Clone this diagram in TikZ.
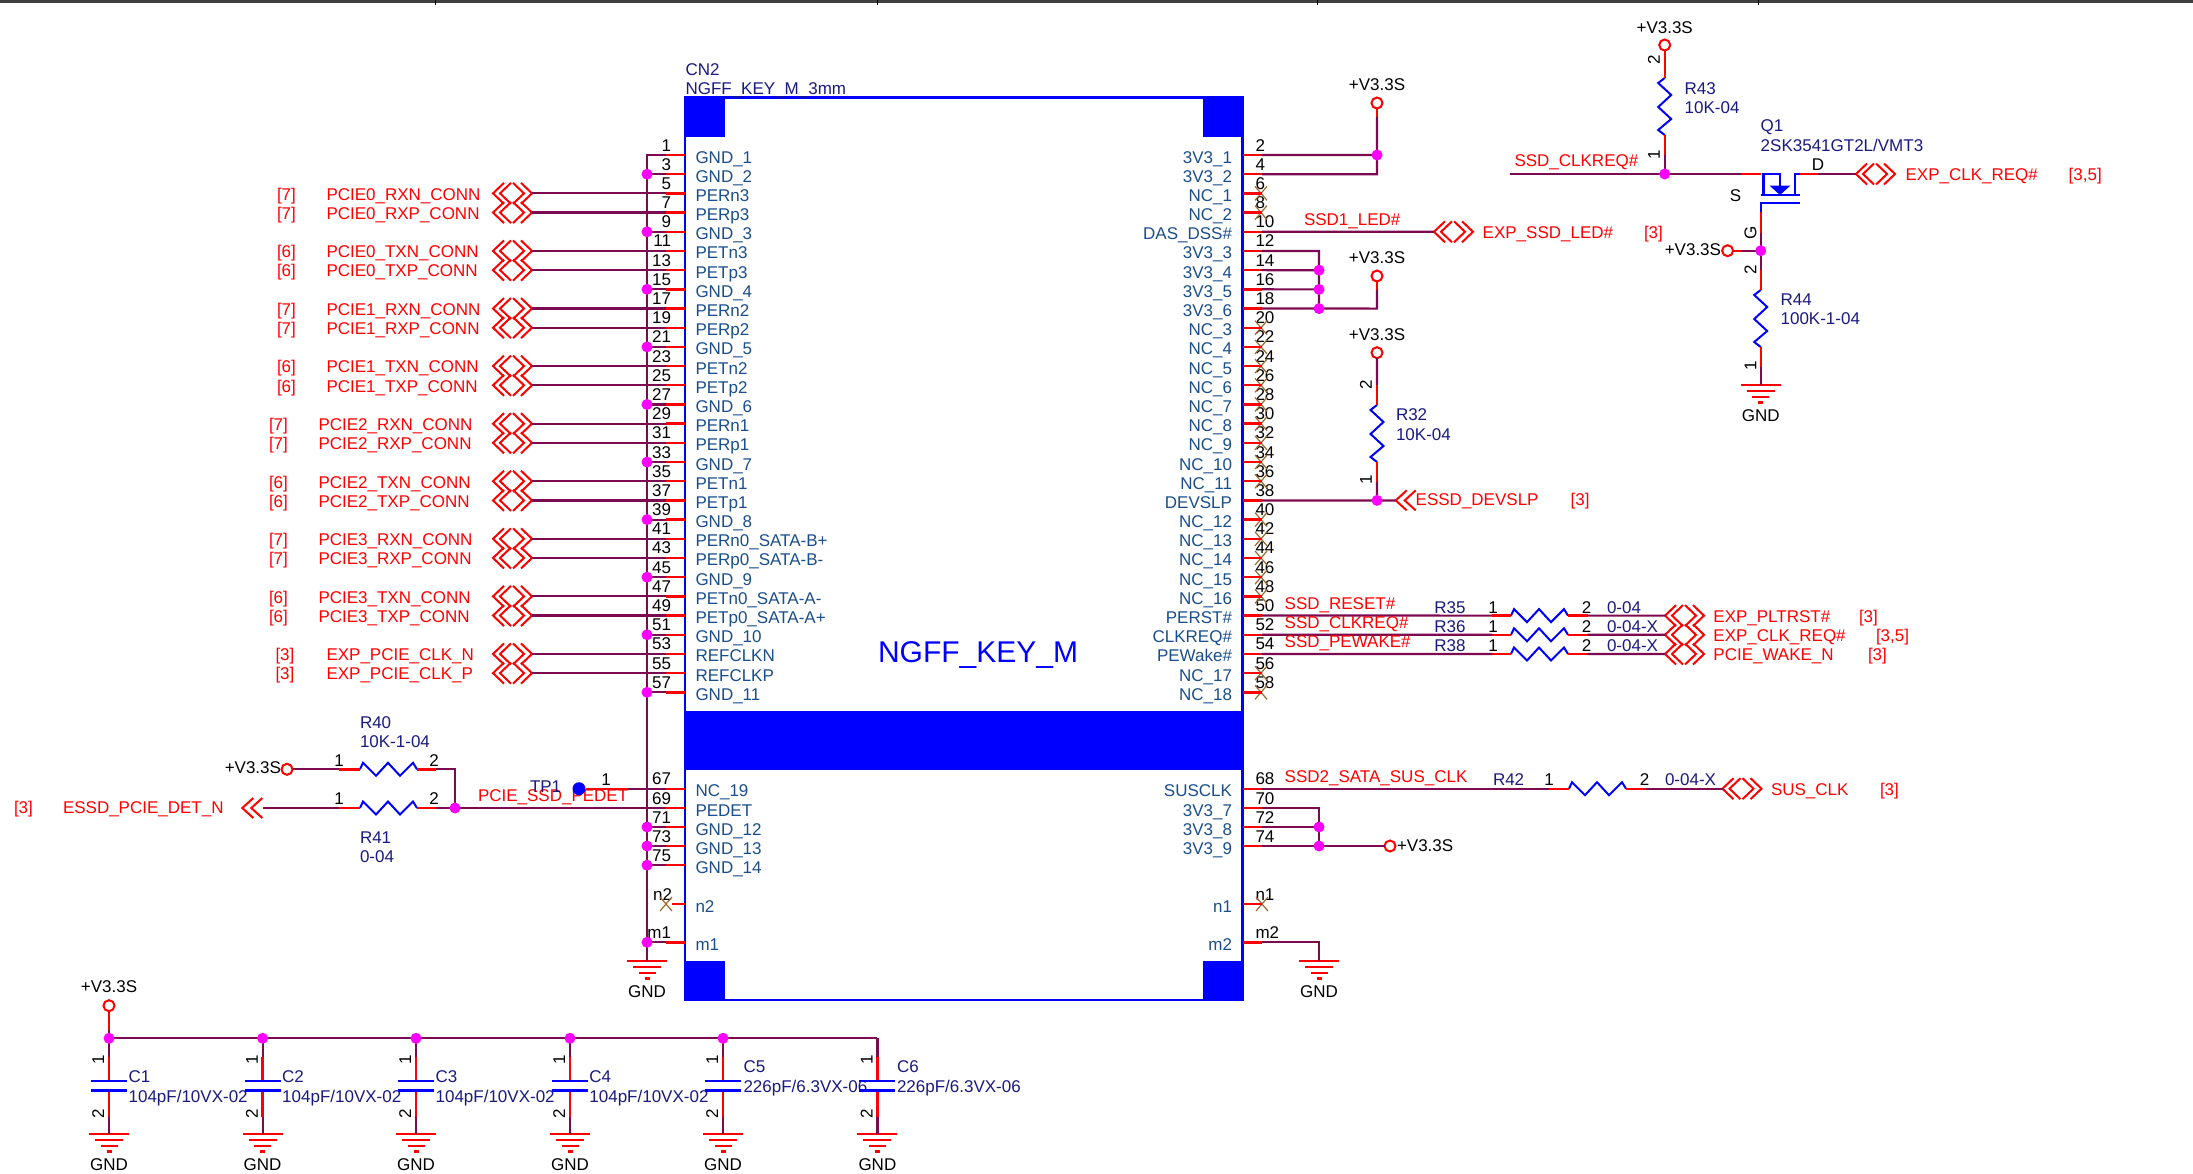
\documentclass[tikz,border=0pt]{standalone}
\usepackage{fontspec}
\setmainfont{Liberation Sans}
\definecolor{wirec}{HTML}{7D0A50}
\definecolor{pinred}{HTML}{FF0000}
\definecolor{namec}{HTML}{1A4E8C}
\definecolor{refc}{HTML}{1A1A80}
\definecolor{bodyc}{HTML}{0000FF}
\definecolor{dotc}{HTML}{FF00FF}
\definecolor{xc}{HTML}{9A6A30}
\newcommand{\tfive}{3,5}
\tikzset{
  base/.style={inner sep=0pt,outer sep=0pt,font=\fontsize{17}{17}\selectfont},
  num/.style={base,text=black,anchor=base east},
  numl/.style={base,text=black,anchor=base west},
  numc/.style={base,text=black,anchor=base},
  numr/.style={base,text=black,anchor=center,rotate=90},
  pname/.style={base,text=namec,anchor=base west},
  pnamer/.style={base,text=namec,anchor=base east},
  net/.style={base,text=red,anchor=base west},
  refd/.style={base,text=refc,anchor=base west},
  pwr/.style={base,text=black,anchor=base},
  wire/.style={draw=wirec,line width=2.2pt,line join=miter},
  stub/.style={draw=pinred,line width=2.4pt},
  res/.style={draw=bodyc,line width=2pt,line join=miter},
  chev/.style={draw=pinred,line width=2pt,line join=miter},
  body/.style={draw=bodyc,line width=2.4pt},
  xm/.style={draw=xc,line width=1.2pt},
  ring/.style={draw=pinred,line width=2pt,fill=white},
  gndl/.style={draw=pinred,line width=2.4pt},
}
% junction
\newcommand{\jn}[1]{\fill[dotc] (#1) circle (5.5pt);}
% horizontal resistor: name, x, y
\newcommand{\resh}[3]{%
  \coordinate (#1a) at (#2,#3);\coordinate (#1b) at (#2+57,#3);
  \draw[res] (#1a) -- ++(3,-6.5) -- ++(13,13) -- ++(12,-13) -- ++(12,13) -- ++(13,-13) -- (#1b);}
% vertical resistor: name, x, y
\newcommand{\resv}[3]{%
  \coordinate (#1a) at (#2,#3);\coordinate (#1b) at (#2,#3+57);
  \draw[res] (#1a) -- ++(-6.5,5) -- ++(13,12) -- ++(-13,12) -- ++(13,12) -- ++(-13,11) -- (#1b);}
% double chevron connector: name, left x, y
\newcommand{\conn}[3]{%
  \coordinate (#1w) at (#2,#3);\coordinate (#1e) at (#2+39,#3);
  \draw[chev] (#2+11,#3-10.5) -- (#1w) -- (#2+11,#3+10.5);
  \draw[chev] (#2+18,#3-10.5) -- (#2+7,#3) -- (#2+18,#3+10.5);
  \draw[chev] (#2+20,#3-10.5) -- (#2+31,#3) -- (#2+20,#3+10.5);
  \draw[chev] (#2+28,#3-10.5) -- (#1e) -- (#2+28,#3+10.5);}
% single-direction chevron: name, tip x, y
\newcommand{\connl}[3]{%
  \coordinate (#1w) at (#2,#3);
  \draw[chev] (#2+11,#3-10) -- (#1w) -- (#2+11,#3+10);
  \draw[chev] (#2+20,#3-10) -- (#2+9,#3) -- (#2+20,#3+10);}
% ground: name, x, y (top line)
\newcommand{\gnd}[3]{%
  \coordinate (#1) at (#2,#3);
  \draw[gndl] (#2-20,#3) -- (#2+20,#3);
  \draw[gndl] (#2-14,#3+6) -- (#2+14,#3+6);
  \draw[gndl] (#2-8.5,#3+12) -- (#2+8.5,#3+12);
  \draw[gndl] (#2-2.5,#3+17.5) -- (#2+2.5,#3+17.5);
  \node[pwr] (#1t) at (#2,#3+36) {GND};}
% supply ring: name, x, y
\newcommand{\ringat}[3]{\node[circle,ring,minimum size=11pt,inner sep=0pt,outer sep=0pt] (#1) at (#2,#3) {};}
% NC cross
\newcommand{\xat}[2]{\draw[xm] (#1-6,#2-7) -- (#1+6,#2+7) (#1-6,#2+7) -- (#1+6,#2-7);}
\begin{document}
\begin{tikzpicture}[x=1pt,y=-1pt]
\useasboundingbox (0,0) rectangle (2193,1173);
\fill[white] (0,0) rectangle (2193,1173);
% page frame fragment
\draw[draw=black!75,line width=3pt] (0,1.5) -- (2193,1.5);
\foreach \tx in {435,877,1317.5,1758} \draw[black,line width=1pt] (\tx,0) -- (\tx,5);
% connector body
\draw[body] (685,97.5) rectangle (1242.5,1000);
\fill[bodyc] (685,97) rectangle (725,137);
\fill[bodyc] (1203,97) rectangle (1243,137);
\fill[bodyc] (685,961) rectangle (725,1001);
\fill[bodyc] (1203,961) rectangle (1243,1001);
\fill[bodyc] (685,711) rectangle (1243,770);
\node[refd] (cnref) at (685.5,75) {CN2};
\node[refd] (cnval) at (685.5,94.5) {NGFF\_KEY\_M\_3mm};
\node[base,text=bodyc,anchor=base west,font=\fontsize{30}{30}\selectfont] (cnname) at (878,662) {NGFF\_KEY\_M};
% left pins 1..57
\foreach \n/\t [count=\i from 0] in {1/GND\_1,3/GND\_2,5/PERn3,7/PERp3,9/GND\_3,11/PETn3,13/PETp3,15/GND\_4,17/PERn2,19/PERp2,21/GND\_5,23/PETn2,25/PETp2,27/GND\_6,29/PERn1,31/PERp1,33/GND\_7,35/PETn1,37/PETp1,39/GND\_8,41/PERn0\_SATA-B+,43/PERp0\_SATA-B-,45/GND\_9,47/PETn0\_SATA-A-,49/PETp0\_SATA-A+,51/GND\_10,53/REFCLKN,55/REFCLKP,57/GND\_11}{
  \coordinate (L\n) at (685,{155+19.19*\i});
  \coordinate (Ls\n) at (666,{155+19.19*\i});
  \coordinate (Lb\n) at (647,{155+19.19*\i});
  \node[num] (Lnum\n) at (671,{151+19.19*\i}) {\n};
  \node[pname] (Lname\n) at (695.5,{163+19.19*\i}) {\t};
}
% left pins lower group
\foreach \n/\t/\yy in {67/NC\_19/788.7,69/PEDET/808,71/GND\_12/827,73/GND\_13/846,75/GND\_14/865.2,m1/m1/942.3}{
  \coordinate (L\n) at (685,\yy);
  \coordinate (Ls\n) at (666,\yy);
  \coordinate (Lb\n) at (647,\yy);
  \node[num] (Lnum\n) at (671,\yy-4) {\n};
  \node[pname] (Lname\n) at (695.5,\yy+8) {\t};
}
\coordinate (Ln2) at (685,904);\coordinate (Lsn2) at (672,904);
\node[num] (Lnumn2) at (672,900) {n2};
\node[pname] (Lnamen2) at (695.5,912) {n2};
% right pins 2..58
\foreach \n/\t [count=\i from 0] in {2/3V3\_1,4/3V3\_2,6/NC\_1,8/NC\_2,10/DAS\_DSS\#,12/3V3\_3,14/3V3\_4,16/3V3\_5,18/3V3\_6,20/NC\_3,22/NC\_4,24/NC\_5,26/NC\_6,28/NC\_7,30/NC\_8,32/NC\_9,34/NC\_10,36/NC\_11,38/DEVSLP,40/NC\_12,42/NC\_13,44/NC\_14,46/NC\_15,48/NC\_16,50/PERST\#,52/CLKREQ\#,54/PEWake\#,56/NC\_17,58/NC\_18}{
  \coordinate (R\n) at (1243,{155+19.19*\i});
  \coordinate (Rs\n) at (1262,{155+19.19*\i});
  \node[numl] (Rnum\n) at (1255.5,{151+19.19*\i}) {\n};
  \node[pnamer] (Rname\n) at (1232,{163+19.19*\i}) {\t};
}
\foreach \n/\t/\yy in {68/SUSCLK/788.7,70/3V3\_7/808,72/3V3\_8/827,74/3V3\_9/846,n1/n1/904,m2/m2/942.3}{
  \coordinate (R\n) at (1243,\yy);
  \coordinate (Rs\n) at (1262,\yy);
  \node[numl] (Rnum\n) at (1255.5,\yy-4) {\n};
  \node[pnamer] (Rname\n) at (1232,\yy+8) {\t};
}
% left ground bus
\gnd{gL}{647}{961}
\draw[wire] (L1) -- (Lb1) -- (gL);
\foreach \n in {3,9,15,21,27,33,39,45,51,57,71,73,75,m1} \draw[wire] (Lb\n) -- (Ls\n);
% left signal connectors
\foreach \n/\nt/\lab/\tx/\bx in {5/PCIE0\_RXN\_CONN/7/326.5/277,7/PCIE0\_RXP\_CONN/7/326.5/277,11/PCIE0\_TXN\_CONN/6/326.5/277,13/PCIE0\_TXP\_CONN/6/326.5/277,17/PCIE1\_RXN\_CONN/7/326.5/277,19/PCIE1\_RXP\_CONN/7/326.5/277,23/PCIE1\_TXN\_CONN/6/326.5/277,25/PCIE1\_TXP\_CONN/6/326.5/277,29/PCIE2\_RXN\_CONN/7/318.5/269,31/PCIE2\_RXP\_CONN/7/318.5/269,35/PCIE2\_TXN\_CONN/6/318.5/269,37/PCIE2\_TXP\_CONN/6/318.5/269,41/PCIE3\_RXN\_CONN/7/318.5/269,43/PCIE3\_RXP\_CONN/7/318.5/269,47/PCIE3\_TXN\_CONN/6/318.5/269,49/PCIE3\_TXP\_CONN/6/318.5/269,53/EXP\_PCIE\_CLK\_N/3/326.5/275.5,55/EXP\_PCIE\_CLK\_P/3/326.5/275.5}{
  \pgfmathsetmacro{\py}{155+19.19*(\n-1)/2}
  \conn{cl\n}{493}{\py}
  \draw[wire] (cl\n e) -- (Ls\n);
  \node[net] (cltxt\n) at (\tx,\py+6.8) {\nt};
  \node[net] (clbr\n) at (\bx,\py+6.8) {[\lab]};
}
% R40 / R41
\ringat{pR40}{287}{769.3}
\node[base,anchor=base east] (pR40t) at (281,773) {+V3.3S};
\resh{rA}{360}{769.3}
\resh{rB}{360}{808}
\coordinate (rAs) at (339,769.3);\coordinate (rAe) at (436,769.3);
\coordinate (rBs) at (339,808);\coordinate (rBe) at (436,808);
\coordinate (jPE) at (455,808);
\coordinate (rAc) at (455,769.3);
\draw[wire] (pR40) -- (rAs);
\draw[wire] (rAe) -- (rAc) -- (jPE);
% single chevron connector
\connl{eDET}{242.3}{808}
\coordinate (eDETb) at (263,808);
\draw[wire] (eDETb) -- (rBs);
\draw[wire] (rBe) -- (jPE) -- (Ls69);
\draw[stub] (rAs) -- (rAa) (rAb) -- (rAe) (rBs) -- (rBa) (rBb) -- (rBe);
\node[numc] (rAp1) at (339,766) {1};
\node[numc] (rAp2) at (434,766) {2};
\node[numc] (rBp1) at (339,804) {1};
\node[numc] (rBp2) at (434,804) {2};
\node[refd] (rAr) at (360,728) {R40};
\node[refd] (rAv) at (360,747) {10K-1-04};
\node[refd] (rBr) at (360,843) {R41};
\node[refd] (rBv) at (360,862) {0-04};
\node[net] (tPE) at (478,801) {PCIE\_SSD\_PEDET};
\node[net] (tDET) at (63,813) {ESSD\_PCIE\_DET\_N};
\node[net] (tDETb) at (14,813) {[3]};
% TP1
\fill[bodyc] (579,788.7) circle (6.5pt);
\coordinate (tp1) at (586,788.7);\coordinate (tp1e) at (628,788.7);
\draw[wire] (tp1e) -- (Ls67);
\draw[stub] (tp1) -- (tp1e);
\node[refd] (tpr) at (530,792.7) {TP1};
\node[numc] (tpn) at (606,785) {1};
% right-hand nets: pins 2,4
\ringat{p1}{1377}{103}
\node[pwr] (p1t) at (1377,90) {+V3.3S};
\coordinate (p1s) at (1377,117);
\coordinate (c4) at (1377,174.2);
\coordinate (j2) at (1377,155);
\draw[wire] (Rs2) -- (j2) (Rs4) -- (c4) -- (p1s);
\draw[stub] (p1) -- (p1s);
% pin 10
\conn{cLED}{1434}{231.8}
\draw[wire] (Rs10) -- (cLEDw);
\node[net] (tLED) at (1304,225) {SSD1\_LED\#};
\node[net] (tLEDb) at (1482.7,238) {EXP\_SSD\_LED\#};
\node[net] (tLEDc) at (1644,238) {[3]};
% pins 12..18
\coordinate (c12) at (1319,251);\coordinate (j14) at (1319,270.2);\coordinate (j16) at (1319,289.4);\coordinate (j18) at (1319,308.6);
\coordinate (c18) at (1377,308.6);\coordinate (p2s) at (1377,290);
\ringat{p2}{1377}{276}
\node[pwr] (p2t) at (1377,263) {+V3.3S};
\draw[wire] (Rs12) -- (c12) -- (j18) (Rs14) -- (j14) (Rs16) -- (j16) (Rs18) -- (c18) -- (p2s);
\draw[stub] (p2) -- (p2s);
% R32 / DEVSLP
\ringat{p3}{1377}{352.7}
\node[pwr] (p3t) at (1377,340) {+V3.3S};
\resv{r32}{1377}{405}
\coordinate (r32s) at (1377,385);\coordinate (r32e) at (1377,482);\coordinate (jDS) at (1377,500.4);
\connl{cDS}{1395.7}{500.4}
\draw[wire] (p3) -- (r32s) (r32e) -- (jDS) (Rs38) -- (cDSw);
\draw[stub] (r32s) -- (r32a) (r32b) -- (r32e);
\node[numr] (r32p2) at (1366,385) {2};
\node[numr] (r32p1) at (1366,480) {1};
\node[refd] (r32r) at (1396,420) {R32};
\node[refd] (r32v) at (1396,440) {10K-04};
\node[net] (tDS) at (1415.7,505.7) {ESSD\_DEVSLP};
\node[net] (tDSb) at (1570.7,505.7) {[3]};
% R43 + Q1
\ringat{p4}{1664.7}{45}
\node[pwr] (p4t) at (1664.7,33) {+V3.3S};
\resv{r43}{1664.7}{78}
\coordinate (r43e) at (1664.7,155);\coordinate (jCK) at (1664.7,174);
\coordinate (ckL) at (1510,174);\coordinate (qS) at (1761,174);\coordinate (qSs) at (1741,174);
\draw[wire] (r43e) -- (jCK) (ckL) -- (qSs);
\draw[stub] (p4) -- (r43a) (r43b) -- (r43e) (qSs) -- (qS);
\node[numr] (r43p2) at (1654,60) {2};
\node[numr] (r43p1) at (1654,155) {1};
\node[refd] (r43r) at (1684.7,94) {R43};
\node[refd] (r43v) at (1684.7,113) {10K-04};
\node[net] (tCK) at (1514.5,166.7) {SSD\_CLKREQ\#};
% Q1 body
\coordinate (qG) at (1760.7,211.7);
\coordinate (qD) at (1800,174);\coordinate (qDs) at (1818,174);
\draw[body,line join=miter] (1780,195) -- (1780,174) -- (1763.4,174) -- (1763.4,195);
\draw[body] (1760.7,195) -- (1799.6,195);
\draw[body] (1795,195) -- (1795,174) -- (qD);
\draw[body] (1799.6,202.7) -- (1760.7,202.7) -- (qG);
\fill[bodyc] (1769.6,185.7) -- (1790.3,185.7) -- (1780,195) -- cycle;
\conn{cQ}{1856}{174}
\draw[wire] (qDs) -- (cQw);
\draw[stub] (qD) -- (qDs);
\node[base,text=black,anchor=base] (qSt) at (1735.5,201.7) {S};
\node[base,text=black,anchor=base] (qDt) at (1818,170) {D};
\node[numr] (qGt) at (1750.5,233) {G};
\node[refd] (qr) at (1760.7,131.7) {Q1};
\node[refd] (qv) at (1760.7,151.7) {2SK3541GT2L/VMT3};
\node[net] (tQ) at (1905.6,180) {EXP\_CLK\_REQ\#};
\node[net] (tQb) at (2068.7,180) {[3,5]};
% gate / R44
\ringat{p5}{1727.6}{250.7}
\node[base,anchor=base east] (p5t) at (1721,255) {+V3.3S};
\coordinate (jG) at (1760.7,250.7);\coordinate (gm) at (1760.7,233);\coordinate (p5s) at (1741,250.7);
\resv{r44}{1760.7}{290}
\coordinate (r44s) at (1760.7,270);\coordinate (r44e) at (1760.7,367);
\gnd{g44}{1760.7}{385}
\draw[wire] (gm) -- (r44s) (p5s) -- (jG) (r44e) -- (g44);
\draw[stub] (qG) -- (gm) (p5) -- (p5s) (r44s) -- (r44a) (r44b) -- (r44e);
\node[numr] (r44p2) at (1750.5,270) {2};
\node[numr] (r44p1) at (1750.5,366) {1};
\node[refd] (r44r) at (1780.6,305) {R44};
\node[refd] (r44v) at (1780.6,324) {100K-1-04};
% series resistors
\foreach \n/\rr/\rv/\yy/\tn/\tc/\bx/\bb in {50/R35/0-04/615.6/SSD\_RESET\#/EXP\_PLTRST\#/1859/3,52/R36/0-04-X/634.8/SSD\_CLKREQ\#/EXP\_CLK\_REQ\#/1876/\tfive,54/R38/0-04-X/654/SSD\_PEWAKE\#/PCIE\_WAKE\_N/1868/3}{
  \resh{rs\n}{1511}{\yy}
  \conn{cs\n}{1665}{\yy}
  \coordinate (rs\n s) at (1492,\yy);\coordinate (rs\n e) at (1587.6,\yy);
  \draw[wire] (Rs\n) -- (rs\n s) (rs\n e) -- (cs\n w);
  \draw[stub] (rs\n s) -- (rs\n a) (rs\n b) -- (rs\n e);
  \node[net] (rst\n) at (1284.7,\yy-6.6) {\tn};
  \node[refd] (rsr\n) at (1434.4,\yy-2.6) {\rr};
  \node[numc] (rsp\n) at (1493,\yy-2.6) {1};
  \node[numc] (rsq\n) at (1586.6,\yy-2.6) {2};
  \node[refd] (rsv\n) at (1607,\yy-2.6) {\rv};
  \node[net] (rso\n) at (1713.4,\yy+6.6) {\tc};
  \node[net] (rsb\n) at (\bx,\yy+6.6) {[\bb]};
}
% R42
\resh{r42}{1569}{788.7}
\conn{cSUS}{1722.5}{788.7}
\coordinate (r42s) at (1549,788.7);\coordinate (r42e) at (1646,788.7);
\draw[wire] (Rs68) -- (r42s) (r42e) -- (cSUSw);
\draw[stub] (r42s) -- (r42a) (r42b) -- (r42e);
\node[net] (t42) at (1284.7,782) {SSD2\_SATA\_SUS\_CLK};
\node[refd] (r42r) at (1493,785.7) {R42};
\node[numc] (r42p1) at (1549,785.7) {1};
\node[numc] (r42p2) at (1644.5,785.7) {2};
\node[refd] (r42v) at (1665,785.7) {0-04-X};
\node[net] (t42o) at (1771,795.7) {SUS\_CLK};
\node[net] (t42b) at (1880,795.7) {[3]};
% pins 70..74
\coordinate (c70) at (1319,808);\coordinate (j72) at (1319,827);\coordinate (j74) at (1319,846);
\ringat{p6}{1390}{846}
\node[base,anchor=base west] (p6t) at (1397,851) {+V3.3S};
\draw[wire] (Rs70) -- (c70) -- (j74) (Rs72) -- (j72) (Rs74) -- (p6);
% m2
\gnd{g2}{1319}{961}
\coordinate (cm2) at (1319,942.3);
\draw[wire] (Rsm2) -- (cm2) -- (g2);
% capacitors
\ringat{p7}{109}{1005.7}
\node[pwr] (p7t) at (109,992.7) {+V3.3S};
\coordinate (busc) at (877.4,1038.3);
\foreach \k/\cx/\ct/\cv/\ty/\vy/\tx in {1/109/C1/104pF\slash 10VX-02/1082.7/1102.3/128.6,2/262.6/C2/104pF\slash 10VX-02/1082.7/1102.3/282.2,3/416/C3/104pF\slash 10VX-02/1082.7/1102.3/435.6,4/570/C4/104pF\slash 10VX-02/1082.7/1102.3/589.4,5/723/C5/226pF\slash 6.3VX-06/1072.7/1092.7/743.5,6/877.4/C6/226pF\slash 6.3VX-06/1072.7/1092.7/897}{
  \coordinate (cb\k) at (\cx,1038.3);
  \coordinate (cm\k) at (\cx,1057);\coordinate (ct\k) at (\cx,1080.7);
  \coordinate (cp\k) at (\cx,1090.4);\coordinate (cq\k) at (\cx,1116.5);
  \gnd{gc\k}{\cx}{1134}
  \draw[wire] (cb\k) -- (cm\k) (cq\k) -- (gc\k);
  \draw[stub] (cm\k) -- (ct\k) (cp\k) -- (cq\k);
  \draw[body] (\cx-18,1080.7) -- (\cx+18,1080.7);
  \draw[body] (\cx-18,1090.4) -- (\cx+18,1090.4);
  \node[numr] (cn1\k) at (\cx-10.7,1060) {1};
  \node[numr] (cn2\k) at (\cx-10.7,1114) {2};
  \node[refd] (cref\k) at (\tx,\ty) {\ct};
  \node[refd] (cval\k) at (\tx,\vy) {\cv};
}
\draw[wire] (cb1) -- (busc) (p7) -- (cb1);
\draw[stub] (p7) -- (109,1030);
% NC crosses
\foreach \n in {6,8,20,22,24,26,28,30,32,34,36,40,42,44,46,48,56,58}{
  \pgfmathsetmacro{\py}{155+19.19*(\n-2)/2}
  \xat{1261}{\py}
}
\xat{1262}{904}
\xat{666}{904}
% pin stubs on top
\foreach \n in {1,3,5,7,9,11,13,15,17,19,21,23,25,27,29,31,33,35,37,39,41,43,45,47,49,51,53,55,57,67,69,71,73,75,m1,n2}
  \draw[stub] (L\n) -- (Ls\n);
\foreach \n in {2,4,6,8,10,12,14,16,18,20,22,24,26,28,30,32,34,36,38,40,42,44,46,48,50,52,54,56,58,68,70,72,74,n1,m2}
  \draw[stub] (R\n) -- (Rs\n);
% junctions
\foreach \n in {3,9,15,21,27,33,39,45,51,57,71,73,75,m1} {\jn{Lb\n}}
\foreach \c in {j2,j14,j16,j18,jDS,jCK,jG,jPE,j72,j74,cb1,cb2,cb3,cb4,cb5} {\jn{\c}}
\end{tikzpicture}
\end{document}
